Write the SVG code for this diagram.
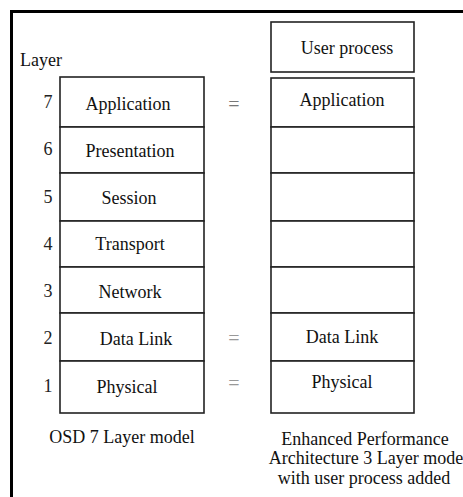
<svg xmlns="http://www.w3.org/2000/svg" width="463" height="497" viewBox="0 0 463 497">
<style>
text{font-family:'Liberation Serif','Tinos','Times New Roman','DejaVu Serif',serif;font-size:18px;text-anchor:middle;fill:#111}
.bx{fill:#fff;stroke:#222;stroke-width:1.6}
.n{fill:#222}
.eq{font-size:20px;fill:#999}
</style>
<rect width="463" height="497" fill="#fff"/>
<path d="M11.5,497 V11.5 H463" fill="none" stroke="#000" stroke-width="3"/>
<text x="41" y="66">Layer</text>
<g id="osi">
<g id="l7"><rect class="bx" x="60" y="77" width="144" height="50"/><text class="n" x="48" y="108">7</text><text x="128" y="110">Application</text></g>
<g id="l6"><rect class="bx" x="60" y="127" width="144" height="46"/><text class="n" x="48" y="155">6</text><text x="130" y="157">Presentation</text></g>
<g id="l5"><rect class="bx" x="60" y="173" width="144" height="48"/><text class="n" x="48" y="203">5</text><text x="129" y="204">Session</text></g>
<g id="l4"><rect class="bx" x="60" y="221" width="144" height="46"/><text class="n" x="48" y="250">4</text><text x="130" y="250">Transport</text></g>
<g id="l3"><rect class="bx" x="60" y="267" width="144" height="46"/><text class="n" x="48" y="297">3</text><text x="130" y="298">Network</text></g>
<g id="l2"><rect class="bx" x="60" y="313" width="144" height="48"/><text class="n" x="48" y="344">2</text><text x="136" y="345">Data Link</text></g>
<g id="l1"><rect class="bx" x="60" y="361" width="144" height="52"/><text class="n" x="48" y="392">1</text><text x="127" y="393">Physical</text></g>
</g>
<g id="epa">
<g id="up"><rect class="bx" x="271" y="22" width="143" height="50"/><text x="347" y="54">User process</text></g>
<g id="r7"><rect class="bx" x="271" y="78" width="143" height="49"/><text x="342" y="106">Application</text></g>
<g id="r6"><rect class="bx" x="271" y="127" width="143" height="46"/></g>
<g id="r5"><rect class="bx" x="271" y="173" width="143" height="48"/></g>
<g id="r4"><rect class="bx" x="271" y="221" width="143" height="46"/></g>
<g id="r3"><rect class="bx" x="271" y="267" width="143" height="46"/></g>
<g id="r2"><rect class="bx" x="271" y="313" width="143" height="48"/><text x="342" y="343">Data Link</text></g>
<g id="r1"><rect class="bx" x="271" y="361" width="143" height="52"/><text x="342" y="388">Physical</text></g>
</g>
<g id="connectors">
<text class="eq" x="234" y="111" style="fill:#777">=</text>
<text class="eq" x="234" y="345">=</text>
<text class="eq" x="234" y="390">=</text>
</g>
<text x="122" y="443">OSD 7 Layer model</text>
<text x="365" y="445">Enhanced Performance</text>
<text x="366" y="464">Architecture 3 Layer mode</text>
<text x="364" y="484">with user process added</text>
</svg>
